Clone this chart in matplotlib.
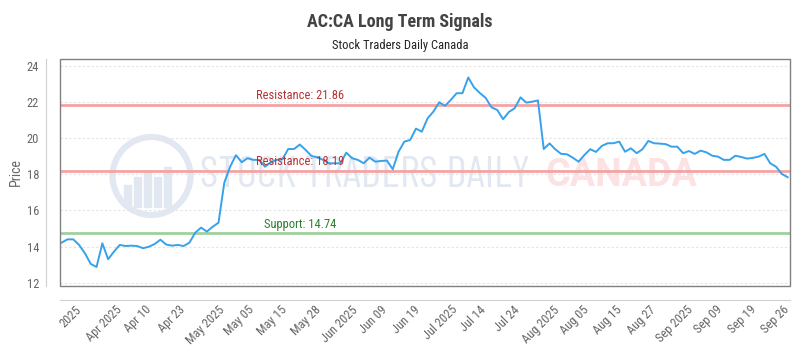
import numpy as np
import matplotlib
matplotlib.use("Agg")
import matplotlib.pyplot as plt
from matplotlib import font_manager
from matplotlib.patches import Rectangle, Circle

# daily closes
price = [
    14.22, 14.40, 14.40, 14.09, 13.63, 13.04, 12.87, 14.18, 13.30, 13.72,
    14.09, 14.03, 14.05, 14.03, 13.91, 13.99, 14.14, 14.38, 14.11, 14.05,
    14.09, 14.03, 14.22, 14.77, 15.05, 14.83, 15.10, 15.32, 17.54, 18.42,
    19.06, 18.67, 18.89, 18.80, 18.80, 18.42, 18.67, 18.80, 18.83, 19.40,
    19.40, 19.65, 19.35, 19.02, 18.94, 18.80, 18.61, 18.61, 18.61, 19.20,
    18.89, 18.80, 18.61, 18.92, 18.70, 18.74, 18.76, 18.28, 19.25, 19.81,
    19.90, 20.53, 20.36, 21.10, 21.47, 21.99, 21.79, 22.12, 22.49, 22.49,
    23.36, 22.81, 22.50, 22.23, 21.71, 21.56, 21.05, 21.45, 21.66, 22.26,
    21.97, 22.02, 22.09, 19.40, 19.71, 19.38, 19.13, 19.11, 18.92, 18.70,
    19.07, 19.39, 19.24, 19.57, 19.72, 19.72, 19.81, 19.25, 19.44, 19.17,
    19.39, 19.85, 19.72, 19.70, 19.67, 19.53, 19.53, 19.17, 19.29, 19.13,
    19.31, 19.22, 19.03, 18.98, 18.80, 18.80, 19.03, 18.96, 18.87, 18.91,
    18.98, 19.13, 18.61, 18.42, 18.02, 17.84,
]
tick_labels = [
    "2025", "Apr 2025", "Apr 10", "Apr 23", "May 2025", "May 05", "May 15",
    "May 28", "Jun 2025", "Jun 09", "Jun 19", "Jul 2025", "Jul 14", "Jul 24",
    "Aug 2025", "Aug 05", "Aug 15", "Aug 27", "Sep 2025", "Sep 09", "Sep 19",
    "Sep 26",
]
resistance_hi = 21.86
resistance_lo = 18.19
support = 14.74

avail = {f.name for f in font_manager.fontManager.ttflist}
base = next(f for f in ["Roboto Condensed", "Asap Condensed", "Roboto"] if f in avail)
narrow = next(f for f in ["Barlow Condensed", "Roboto Condensed", "Roboto"] if f in avail)
plt.rcParams["font.family"] = [base, "DejaVu Sans"]

fig = plt.figure(figsize=(8, 3.5), dpi=100)
ax = fig.add_axes([0.075, 0.183, 0.9125, 0.6477])

x = np.arange(len(price))
ax.plot(x, price, color="#36a2eb", lw=1.4, zorder=5)

levels = [
    (resistance_hi, "Resistance", "#f4a3a3", "#b83232"),
    (resistance_lo, "Resistance", "#f4a3a3", "#b83232"),
    (support, "Support", "#9fd09f", "#2e7d32"),
]
for lvl, name, line_col, txt_col in levels:
    ax.axhline(lvl, color=line_col, lw=2, zorder=4)
    ax.annotate(f"{name}: {lvl:.2f}", xy=(41, lvl), xytext=(0, 9),
                textcoords="offset pixels", ha="center", va="center",
                color=txt_col, fontsize=9, zorder=6)

# watermark (logo ring, bars and brand text)
wm = "#e2e8f2"
ax.add_artist(Circle((1.515, 1.74), 0.39, transform=fig.dpi_scale_trans,
                     fill=False, ec=wm, lw=4.5, clip_on=False, zorder=1))
for bx, bh in [(1.24, 0.22), (1.34, 0.30), (1.44, 0.36), (1.54, 0.30), (1.64, 0.40)]:
    ax.add_artist(Rectangle((bx, 1.43), 0.07, bh, transform=fig.dpi_scale_trans,
                            color=wm, clip_on=False, zorder=1))
wm1 = ax.text(2.0, 1.74, "STOCK TRADERS DAILY", transform=fig.dpi_scale_trans,
              fontsize=24, color=wm, ha="left", va="center", zorder=1,
              family=[narrow, "DejaVu Sans"])
wm2 = ax.text(5.45, 1.74, "CANADA", transform=fig.dpi_scale_trans, fontsize=24,
              color="#fce2e2", ha="left", va="center", fontweight="bold", zorder=1,
              family=["Roboto", "DejaVu Sans"])
fig.canvas.draw()
rend = fig.canvas.get_renderer()
for t, w in [(wm1, 330), (wm2, 152)]:
    t.set_fontsize(t.get_fontsize() * w / t.get_window_extent(rend).width)

ax.set_xlim(-0.29, 125.4)
ax.set_ylim(11.82, 24.37)
ax.set_yticks(range(12, 25, 2))
ax.set_xticks(np.linspace(1.6, 122.95, len(tick_labels)), tick_labels)
ax.tick_params(length=0, labelcolor="#666666", labelsize=9)
ax.tick_params(axis="y", pad=5)
ax.tick_params(axis="x", pad=2.5, labelrotation=45)
for lab in ax.get_xticklabels():
    lab.set_ha("right")
    lab.set_va("top")
    lab.set_rotation_mode("anchor")
ax.yaxis.grid(True, color="#e4e4e4", linestyle=(0, (2, 2)), lw=0.8)

for side in ["top", "right"]:
    ax.spines[side].set_visible(False)
for side in ["left", "bottom"]:
    ax.spines[side].set_position(("outward", 10))
    ax.spines[side].set_color("#d0d0d0")
ax.add_artist(Rectangle((0, 0), 1, 1, transform=ax.transAxes, fill=False,
                        ec="#808080", lw=1, clip_on=False, zorder=7))

fig.text(0.5, 1 - 22 / 350, "AC:CA Long Term Signals", ha="center", va="center",
         fontsize=13, fontweight="bold", color="#444444")
fig.text(0.5, 1 - 45.5 / 350, "Stock Traders Daily Canada", ha="center", va="center",
         fontsize=9, color="#222222")
fig.text(15.7 / 800, 1 - 171.7 / 350, "Price", rotation=90, ha="center", va="center",
         fontsize=10, color="#666666")

fig.savefig("out.png", dpi=100)
